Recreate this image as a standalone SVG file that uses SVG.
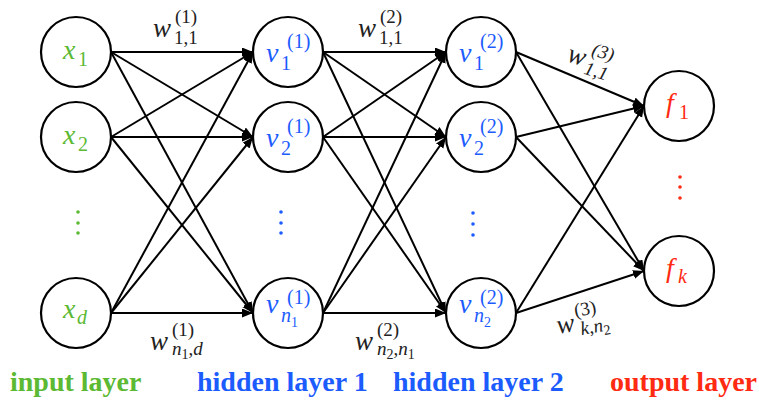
<svg xmlns="http://www.w3.org/2000/svg" width="759" height="400" viewBox="0 0 759 400">
<style>
.node{fill:#fff;stroke:#000;stroke-width:2.2}
.e{stroke:#000;stroke-width:2;fill:none;marker-end:url(#arr)}
.m,.w,.lab{font-family:"Liberation Serif","Times New Roman",Tinos,"Nimbus Roman","Nimbus Roman No9 L",FreeSerif,"Noto Serif","DejaVu Serif",Georgia,serif}
.m{font-style:italic;font-size:28px}
.s{font-size:20px}
.ss{font-size:14px}
.up{font-style:normal}
.w{font-style:italic;font-size:27px;fill:#222}
.ws{font-size:19px}
.lab{font-weight:bold;font-size:28px}
.g{fill:#5cb933}
.b{fill:#1c5cff}
.r{fill:#ff2a12}
</style>
<defs>
<marker id="arr" markerUnits="userSpaceOnUse" markerWidth="12" markerHeight="10" refX="11" refY="4.5" orient="auto">
<path d="M0,0 L11,4.5 L0,9 z" fill="#000"/>
</marker>
</defs>
<g id="connectors">
<line class="e" x1="111" y1="52" x2="253" y2="52"/>
<line class="e" x1="111" y1="52" x2="253" y2="137"/>
<line class="e" x1="111" y1="52" x2="253" y2="313"/>
<line class="e" x1="111" y1="137" x2="253" y2="52"/>
<line class="e" x1="111" y1="137" x2="253" y2="137"/>
<line class="e" x1="111" y1="137" x2="253" y2="313"/>
<line class="e" x1="111" y1="313" x2="253" y2="52"/>
<line class="e" x1="111" y1="313" x2="253" y2="137"/>
<line class="e" x1="111" y1="313" x2="253" y2="313"/>
<line class="e" x1="323" y1="52" x2="446" y2="52"/>
<line class="e" x1="323" y1="52" x2="446" y2="137"/>
<line class="e" x1="323" y1="52" x2="446" y2="313"/>
<line class="e" x1="323" y1="137" x2="446" y2="52"/>
<line class="e" x1="323" y1="137" x2="446" y2="137"/>
<line class="e" x1="323" y1="137" x2="446" y2="313"/>
<line class="e" x1="323" y1="313" x2="446" y2="52"/>
<line class="e" x1="323" y1="313" x2="446" y2="137"/>
<line class="e" x1="323" y1="313" x2="446" y2="313"/>
<line class="e" x1="516" y1="52" x2="644" y2="106"/>
<line class="e" x1="516" y1="52" x2="644" y2="271"/>
<line class="e" x1="516" y1="137" x2="644" y2="106"/>
<line class="e" x1="516" y1="137" x2="644" y2="271"/>
<line class="e" x1="516" y1="313" x2="644" y2="106"/>
<line class="e" x1="516" y1="313" x2="644" y2="271"/>
</g>
<g id="edge-labels">
<text class="w" x="153" y="37">w<tspan class="ws up" x="175" y="23">(1)</tspan><tspan class="ws up" x="174" y="44">1,1</tspan></text>
<text class="w" x="358" y="37">w<tspan class="ws up" x="380" y="23">(2)</tspan><tspan class="ws up" x="379" y="44">1,1</tspan></text>
<text class="w" x="150" y="350">w<tspan class="ws up" x="172" y="336">(1)</tspan><tspan class="ws" x="172" y="355">n</tspan><tspan class="ss up" y="359">1</tspan><tspan class="ws up" y="355">,</tspan><tspan class="ws" y="355">d</tspan></text>
<text class="w" x="355" y="350">w<tspan class="ws up" x="377" y="336">(2)</tspan><tspan class="ws" x="377" y="355">n</tspan><tspan class="ss up" y="359">2</tspan><tspan class="ws up" y="355">,</tspan><tspan class="ws" y="355">n</tspan><tspan class="ss up" y="359">1</tspan></text>
<g transform="translate(566,61) rotate(17)">
<text class="w" x="0" y="0">w<tspan class="ws" x="22" y="-13">(3)</tspan><tspan class="ws" x="20" y="7">1,1</tspan></text>
</g>
<g transform="translate(558,334) rotate(-10)">
<text class="w" x="0" y="0">w<tspan class="ws up" x="20" y="-14">(3)</tspan><tspan class="ws" x="23" y="5">k</tspan><tspan class="ws up" y="5">,</tspan><tspan class="ws" y="5">n</tspan><tspan class="ss up" y="9">2</tspan></text>
</g>
</g>
<g id="x1"><circle class="node" cx="76" cy="52" r="35"/><text class="m g" x="63" y="59">x<tspan class="s up" x="78" y="66">1</tspan></text></g>
<g id="x2"><circle class="node" cx="76" cy="137" r="35"/><text class="m g" x="63" y="144">x<tspan class="s up" x="78" y="151">2</tspan></text></g>
<g id="xd"><circle class="node" cx="76" cy="313" r="35"/><text class="m g" x="63" y="318">x<tspan class="s" x="77" y="324">d</tspan></text></g>
<g id="x-dots" class="g"><circle cx="78" cy="212" r="1.8"/><circle cx="78" cy="223" r="1.8"/><circle cx="78" cy="233" r="1.8"/></g>
<g id="h1-1"><circle class="node" cx="288" cy="52" r="35"/><text class="m b" x="266" y="62">ν<tspan class="s up" x="281" y="70">1</tspan><tspan class="s up" x="287" y="48">(1)</tspan></text></g>
<g id="h1-2"><circle class="node" cx="288" cy="137" r="35"/><text class="m b" x="266" y="147">ν<tspan class="s up" x="281" y="155">2</tspan><tspan class="s up" x="287" y="133">(1)</tspan></text></g>
<g id="h1-n"><circle class="node" cx="288" cy="313" r="35"/><text class="m b" x="266" y="313">ν<tspan class="s" x="281" y="322">n</tspan><tspan class="ss up" y="327">1</tspan><tspan class="s up" x="287" y="304">(1)</tspan></text></g>
<g id="h1-dots" class="b"><circle cx="281" cy="212" r="1.8"/><circle cx="281" cy="223" r="1.8"/><circle cx="281" cy="233" r="1.8"/></g>
<g id="h2-1"><circle class="node" cx="481" cy="52" r="35"/><text class="m b" x="459" y="62">ν<tspan class="s up" x="474" y="70">1</tspan><tspan class="s up" x="480" y="48">(2)</tspan></text></g>
<g id="h2-2"><circle class="node" cx="481" cy="137" r="35"/><text class="m b" x="459" y="147">ν<tspan class="s up" x="474" y="155">2</tspan><tspan class="s up" x="480" y="133">(2)</tspan></text></g>
<g id="h2-n"><circle class="node" cx="481" cy="313" r="35"/><text class="m b" x="459" y="313">ν<tspan class="s" x="474" y="322">n</tspan><tspan class="ss up" y="327">2</tspan><tspan class="s up" x="480" y="304">(2)</tspan></text></g>
<g id="h2-dots" class="b"><circle cx="473" cy="213" r="1.8"/><circle cx="473" cy="224" r="1.8"/><circle cx="473" cy="235" r="1.8"/></g>
<g id="f1"><circle class="node" cx="679" cy="106" r="35"/><text class="m r" x="666" y="112">f<tspan class="s up" x="679" y="119">1</tspan></text></g>
<g id="fk"><circle class="node" cx="679" cy="271" r="35"/><text class="m r" x="666" y="277">f<tspan class="s" x="678" y="283">k</tspan></text></g>
<g id="f-dots" class="r"><circle cx="680" cy="177" r="1.8"/><circle cx="680" cy="187" r="1.8"/><circle cx="680" cy="198" r="1.8"/></g>
<g id="layer-labels">
<text class="lab g" x="10" y="391">input layer</text>
<text class="lab b" x="197" y="391">hidden layer 1</text>
<text class="lab b" x="393" y="391">hidden layer 2</text>
<text class="lab r" x="610" y="391">output layer</text>
</g>
</svg>
